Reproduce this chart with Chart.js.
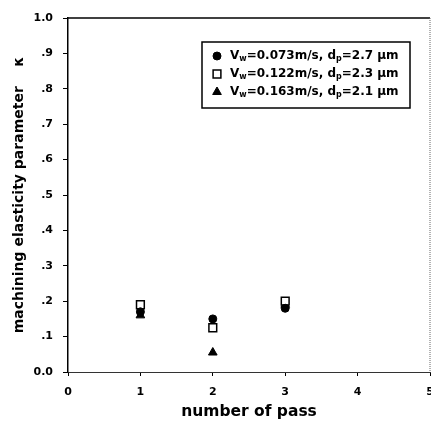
<!DOCTYPE html>
<html>
<head>
<meta charset="utf-8">
<script src="https://cdn.jsdelivr.net/npm/chart.js@4.4.1/dist/chart.umd.min.js"></script>
<style>
  html, body { margin: 0; padding: 0; background: #fff; }
  #wrap { width: 431px; height: 428px; }
</style>
</head>
<body>
<div id="wrap"><canvas id="myChart"></canvas></div>
<script>
// number of pass on x, machining elasticity parameter on y
const passes = [1, 2, 3];
const kappaSlow = [0.17, 0.15, 0.18];   // Vw=0.073 m/s
const kappaMid = [0.19, 0.125, 0.2];    // Vw=0.122 m/s
const kappaFast = [0.16, 0.055, 0.19];  // Vw=0.163 m/s
const wheelSpeeds = ['0.073', '0.122', '0.163'];
const grainSizes = ['2.7', '2.3', '2.1'];
const yTickLabels = ['0.0', '.1', '.2', '.3', '.4', '.5', '.6', '.7', '.8', '.9', '1.0'];
const xTickLabels = ['0', '1', '2', '3', '4', '5'];

const FONT = "'DejaVu Sans', sans-serif";

const toPoints = values => passes.map((p, i) => ({ x: p, y: values[i] }));

// box + top/right border of the plot
const frame = {
    id: 'frame',
    afterDraw(chart) {
        const { ctx, chartArea } = chart;
        ctx.save();
        ctx.strokeStyle = '#000';
        ctx.lineWidth = 1.5;
        ctx.beginPath();
        ctx.moveTo(chartArea.left, chartArea.top);
        ctx.lineTo(chartArea.right, chartArea.top);
        ctx.stroke();
        ctx.strokeStyle = '#666';
        ctx.lineWidth = 1;
        ctx.setLineDash([1, 1]);
        ctx.beginPath();
        ctx.moveTo(chartArea.right, chartArea.top);
        ctx.lineTo(chartArea.right, chartArea.bottom);
        ctx.stroke();
        ctx.restore();
    }
};

// legend drawn inside the plot, with subscripts
const legendBox = {
    id: 'legendBox',
    afterDraw(chart) {
        const { ctx, chartArea } = chart;
        const left = chartArea.left + 134, top = chartArea.top + 24, w = 208, h = 66;
        ctx.save();
        ctx.fillStyle = '#fff';
        ctx.fillRect(left, top, w, h);
        ctx.strokeStyle = '#000';
        ctx.lineWidth = 1.5;
        ctx.strokeRect(left, top, w, h);
        ctx.textBaseline = 'middle';
        chart.data.datasets.forEach((ds, i) => {
            const y = top + 14 + i * 18;
            ctx.fillStyle = ds.backgroundColor;
            ctx.strokeStyle = ds.borderColor;
            ctx.lineWidth = ds.borderWidth;
            Chart.helpers.drawPoint(ctx, {
                pointStyle: ds.pointStyle, radius: ds.pointRadius,
                borderWidth: ds.borderWidth, rotation: 0
            }, left + 15, y);
            const parts = [
                ['V', false], ['w', true],
                ['=' + wheelSpeeds[i] + 'm/s, d', false], ['p', true],
                ['=' + grainSizes[i] + ' \u03bcm', false]
            ];
            let x = left + 28;
            ctx.fillStyle = '#000';
            parts.forEach(([t, sub]) => {
                ctx.font = sub ? `bold 8px ${FONT}` : `bold 12px ${FONT}`;
                ctx.fillText(t, x, sub ? y + 3 : y);
                x += ctx.measureText(t).width;
            });
        });
        ctx.restore();
    }
};

const ctx = document.getElementById('myChart');

new Chart(ctx, {
    type: 'scatter',
    data: {
        datasets: [
            {
                label: 'Vw=0.073m/s',
                data: toPoints(kappaSlow),
                pointStyle: 'circle',
                pointRadius: 4,
                backgroundColor: '#000',
                borderColor: '#000',
                borderWidth: 1
            },
            {
                label: 'Vw=0.122m/s',
                data: toPoints(kappaMid),
                pointStyle: 'rect',
                pointRadius: 5.5,
                backgroundColor: '#fff',
                borderColor: '#000',
                borderWidth: 1.5
            },
            {
                label: 'Vw=0.163m/s',
                data: toPoints(kappaFast),
                pointStyle: 'triangle',
                pointRadius: 5,
                backgroundColor: '#000',
                borderColor: '#000',
                borderWidth: 1
            }
        ]
    },
    options: {
        responsive: true,
        maintainAspectRatio: false,
        animation: false,
        layout: { autoPadding: false, padding: { top: 18, right: 1, left: 0, bottom: 0 } },
        plugins: { legend: { display: false }, tooltip: { enabled: false } },
        scales: {
            x: {
                type: 'linear',
                min: 0,
                max: 5,
                afterFit(scale) {
                    scale.height = 56;
                    scale.paddingLeft = 0;
                    scale.paddingRight = 0;
                },
                border: { display: true, color: '#333', width: 1 },
                grid: { drawOnChartArea: false, drawTicks: true, tickLength: 4, color: '#000' },
                ticks: {
                    stepSize: 1,
                    padding: 10,
                    color: '#000',
                    font: { family: FONT, weight: 'bold', size: 11 },
                    callback: (v, i) => xTickLabels[i]
                },
                title: {
                    display: true,
                    text: 'number of pass',
                    color: '#000',
                    font: { family: FONT, weight: 'bold', size: 15.5 },
                    padding: { top: 0, bottom: 7 }
                }
            },
            y: {
                min: 0,
                max: 1,
                afterFit(scale) {
                    scale.width = 68;
                    scale.paddingTop = 0;
                    scale.paddingBottom = 0;
                },
                border: { display: true, color: '#000', width: 1.5 },
                grid: { drawOnChartArea: false, drawTicks: true, tickLength: 5, color: '#000' },
                ticks: {
                    stepSize: 0.1,
                    padding: 10,
                    color: '#000',
                    font: { family: FONT, weight: 'bold', size: 11 },
                    callback: (v, i) => yTickLabels[i]
                },
                title: {
                    display: true,
                    text: 'machining elasticity parameter    \u03ba',
                    color: '#000',
                    font: { family: FONT, weight: 'bold', size: 14 },
                    padding: { top: 11, bottom: 0 }
                }
            }
        }
    },
    plugins: [frame, legendBox]
});
</script>
</body>
</html>
